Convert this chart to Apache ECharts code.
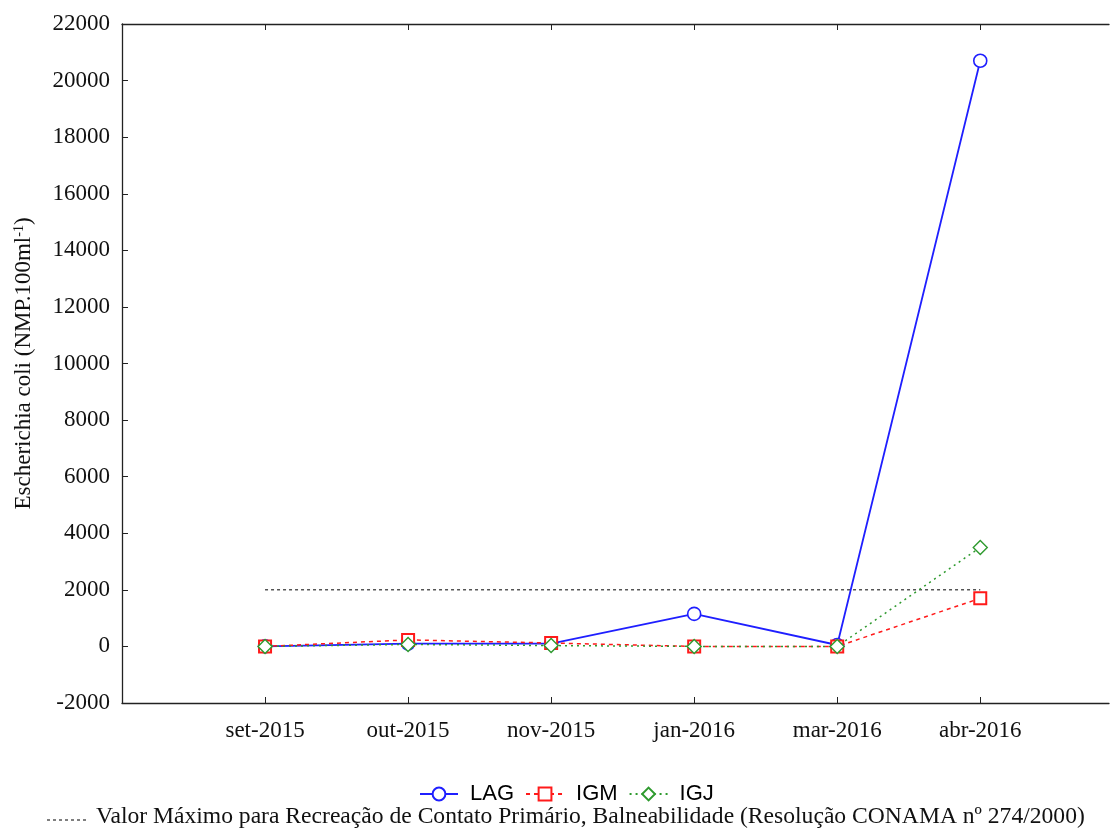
<!DOCTYPE html>
<html><head><meta charset="utf-8">
<script src="https://cdn.jsdelivr.net/npm/echarts@6/dist/echarts.min.js"></script>
<style>html,body{margin:0;padding:0;background:#fff}#c{width:1110px;height:831px}</style>
</head><body><div id="c"></div>
<script>
const categories = ['set-2015','out-2015','nov-2015','jan-2016','mar-2016','abr-2016'];
const LAG = [0, 100, 100, 1150, 50, 20700];
const IGM = [0, 230, 120, 0, 0, 1700];
const IGJ = [0, 70, 30, 0, 0, 3500];
const limitValue = 2000;
const yTicks = {min: -2000, max: 22000, interval: 2000};
const legendNote = 'Valor Máximo para Recreação de Contato Primário, Balneabilidade (Resolução CONAMA nº 274/2000)';

const toXY = arr => arr.map((v, i) => [i, v]);
const catIdx = categories.map((c, i) => i);
const serif = '"Liberation Serif","DejaVu Serif",serif';
const sans = '"Liberation Sans",Arial,sans-serif';
const chart = echarts.init(document.getElementById('c'));
const common = {
  type: 'value', min: -1, max: 5.9, interval: 1,
  axisLine: {show: true, onZero: false, lineStyle: {color: '#222', width: 1.3}},
  axisTick: {show: true, inside: true, length: 6, customValues: catIdx, lineStyle: {color: '#222'}},
  splitLine: {show: false}
};
chart.setOption({
  animation: false,
  grid: {left: 122, right: 1, top: 24, bottom: 128},
  xAxis: [
    Object.assign({}, common, {
      position: 'bottom',
      axisLabel: {
        margin: 16, fontFamily: serif, fontSize: 23, color: '#111',
        customValues: catIdx,
        formatter: v => categories[Math.round(v)] || ''
      }
    }),
    Object.assign({}, common, {position: 'top', axisLabel: {show: false}})
  ],
  yAxis: [{
    type: 'value', min: yTicks.min, max: yTicks.max, interval: yTicks.interval,
    axisLine: {show: true, onZero: false, lineStyle: {color: '#222', width: 1.3}},
    axisTick: {show: true, inside: true, length: 6, lineStyle: {color: '#222'}},
    splitLine: {show: false},
    axisLabel: {margin: 12, fontFamily: serif, fontSize: 23, color: '#111', formatter: v => String(v)},
    name: '{m|Escherichia coli (NMP.100ml}{s|-1}{m|)}',
    nameLocation: 'middle', nameRotate: 90, nameGap: 86,
    nameTextStyle: {
      fontFamily: serif, fontSize: 23, color: '#111',
      rich: {
        m: {fontFamily: serif, fontSize: 23, color: '#111'},
        s: {fontFamily: serif, fontSize: 14, color: '#111', verticalAlign: 'top', padding: [0, 0, 10, 0]}
      }
    }
  }],
  legend: {
    data: ['LAG', 'IGM', 'IGJ'],
    left: 414, top: 778, itemWidth: 38, itemHeight: 16, itemGap: 11,
    textStyle: {fontFamily: sans, fontSize: 22, color: '#000', padding: [0, 0, 0, 7]}
  },
  series: [
    {
      name: 'limite', type: 'line', data: toXY(categories.map(() => limitValue)),
      symbol: 'none', lineStyle: {color: '#000', width: 1, type: [3, 3]}, silent: true, z: 1
    },
    {
      name: 'LAG', type: 'line', data: toXY(LAG), symbol: 'circle', symbolSize: 13,
      lineStyle: {color: '#1f1fff', width: 1.8},
      itemStyle: {color: '#fff', borderColor: '#1f1fff', borderWidth: 1.6}, z: 3
    },
    {
      name: 'IGM', type: 'line', data: toXY(IGM), symbol: 'rect', symbolSize: 12,
      lineStyle: {color: '#ff1a1a', width: 1.5, type: [4, 4]},
      itemStyle: {color: '#fff', borderColor: '#ff1a1a', borderWidth: 2}, z: 4
    },
    {
      name: 'IGJ', type: 'line', data: toXY(IGJ), symbol: 'diamond', symbolSize: 14,
      lineStyle: {color: '#2e9a2e', width: 1.5, type: [2, 4]},
      itemStyle: {color: '#fff', borderColor: '#2e9a2e', borderWidth: 1.4}, z: 5
    }
  ],
  graphic: [
    {type: 'line', shape: {x1: 47, y1: 820, x2: 86, y2: 820}, style: {stroke: '#000', lineWidth: 1, lineDash: [3, 3]}},
    {type: 'text', left: 96, top: 805, style: {text: legendNote, font: '23.6px ' + serif, fill: '#111'}}
  ]
});
</script></body></html>
